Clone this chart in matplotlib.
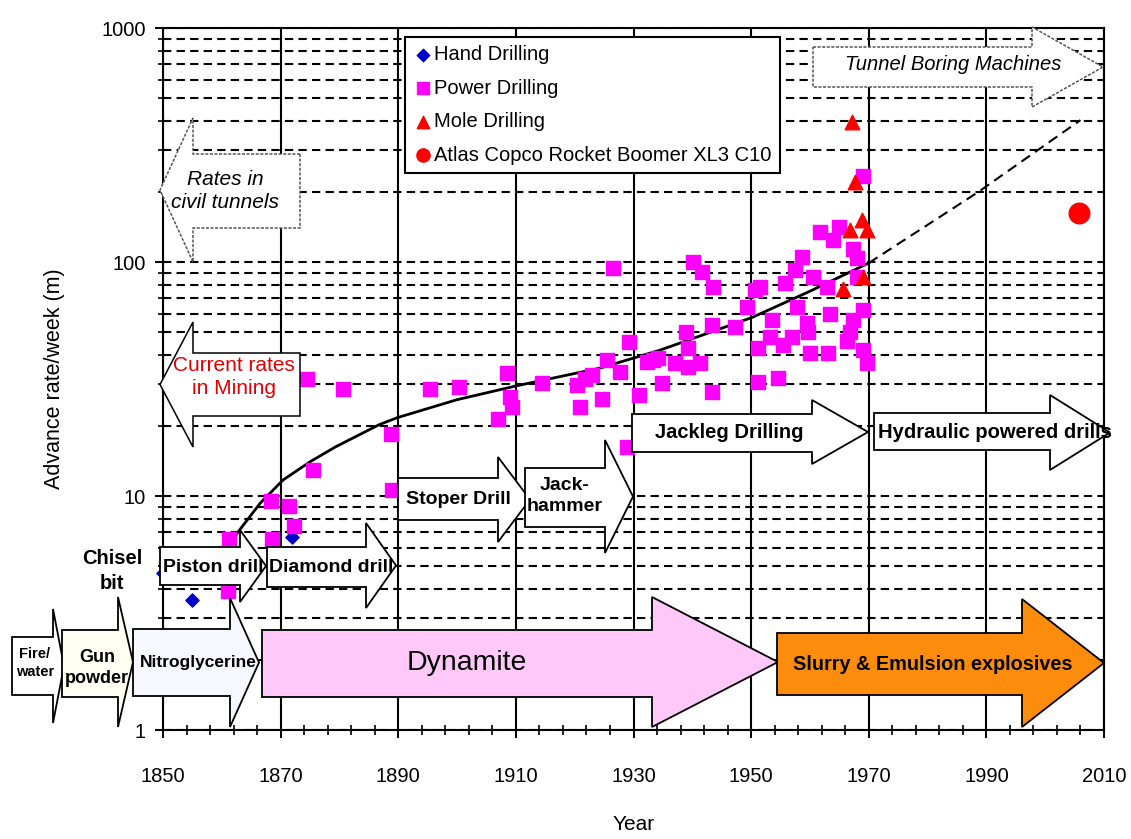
import matplotlib
matplotlib.use('Agg')
import matplotlib.pyplot as plt
from matplotlib.patches import Polygon
from matplotlib.transforms import Affine2D

plt.rcParams['font.family'] = ['Liberation Sans', 'DejaVu Sans']

W, H = 1131, 839

# ---- values ----
hand_year = [1850.0, 1854.9, 1871.9]
hand_rate = [4.7, 3.6, 6.7]

power_year = [1861.1, 1861.2, 1868.5, 1868.4, 1871.4, 1872.3, 1875.5, 1874.5, 1880.6, 1888.8,
              1888.9, 1895.4, 1900.3, 1907.0, 1908.5, 1909.0, 1909.3, 1914.5, 1920.4, 1920.9,
              1921.8, 1923.0, 1924.7, 1925.5, 1926.5, 1927.7, 1928.9, 1929.3, 1931.0, 1932.3,
              1933.3, 1934.2, 1934.9, 1937.0, 1939.3, 1939.0, 1939.3, 1940.1, 1941.3, 1941.7,
              1943.4, 1943.4, 1943.5, 1947.3, 1949.3, 1950.7, 1951.5, 1951.2, 1951.2, 1953.2,
              1953.6, 1954.6, 1955.4, 1955.8, 1957.0, 1957.5, 1957.8, 1958.7, 1959.5, 1959.7,
              1960.0, 1960.5, 1961.7, 1962.9, 1963.0, 1963.4, 1964.0, 1965.0, 1966.3, 1966.8,
              1967.3, 1967.3, 1968.0, 1968.0, 1969.0, 1969.0, 1969.7, 1969.0]
power_rate = [3.93, 6.55, 6.55, 9.5, 9.07, 7.45, 12.9, 31.6, 28.6, 18.4,
              10.6, 28.6, 29.2, 21.3, 33.4, 26.5, 24.0, 30.5, 29.8, 24.0,
              31.5, 32.9, 26.0, 38.0, 94.0, 33.8, 16.2, 45.5, 27.0, 37.3,
              38.0, 39.0, 30.5, 37.0, 35.6, 50.0, 43.0, 100.0, 37.0, 90.7,
              54.0, 27.8, 78.0, 52.7, 64.0, 76.0, 78.0, 43.0, 30.7, 48.0,
              56.5, 32.0, 44.0, 81.0, 48.0, 92.0, 64.0, 105.0, 55.0, 50.0,
              41.0, 86.0, 134.0, 78.0, 41.0, 60.0, 124.0, 141.0, 46.0, 50.0,
              56.5, 114.0, 104.0, 86.0, 62.6, 42.0, 37.0, 234.0]

mole_year = [1967.2, 1967.7, 1966.8, 1968.9, 1969.7, 1969.0, 1965.6]
mole_rate = [396, 220, 137, 151, 137, 86, 77]

atlas_year = [2005.8]
atlas_rate = [162]

trend_year = [1861.0, 1863.1, 1866.5, 1870.4, 1875.0, 1879.3, 1886.8, 1889.8, 1900.0,
              1910.2, 1924.3, 1934.5, 1950.2, 1960.0, 1970.0]
trend_rate = [6.1, 7.2, 9.3, 11.7, 14.0, 16.2, 20.2, 21.6, 25.8,
              29.6, 35.2, 42.0, 58.0, 75.0, 99.0]
future_year = [1970.0, 1988.6, 2006.0]
future_rate = [99.0, 199.0, 404.0]

year_ticks = list(range(1850, 2011, 20))

fig = plt.figure(figsize=(W / 100, H / 100), dpi=100)
ax = fig.add_axes([163 / W, 1 - 730 / H, 941 / W, 702 / H])
# pixel coordinates measured from the top-left corner, for the annotation arrows
pix = Affine2D().scale(1.0 / W, -1.0 / H).translate(0, 1) + fig.transFigure

ax.set_yscale('log')
ax.set_xlim(1850, 2010)
ax.set_ylim(1, 1000)
ax.set_xticks(year_ticks)
ax.set_xticks(range(1850, 2011, 4), minor=True)
ax.set_yticks([1, 10, 100, 1000])
ax.set_yticklabels(['1', '10', '100', '1000'])
ax.tick_params(axis='both', which='major', direction='inout', length=11, width=1.4, labelsize=14.5)
ax.tick_params(axis='both', which='minor', direction='inout', length=7, width=1.2)
ax.tick_params(axis='x', which='major', pad=21)
ax.tick_params(axis='y', which='major', pad=7)
ax.yaxis.set_minor_formatter(plt.NullFormatter())
for s in ax.spines.values():
    s.set_linewidth(1.5)

ax.set_axisbelow(True)
ax.yaxis.grid(True, which='both', color='black', lw=1.5, dashes=(4, 2.5))
ax.xaxis.grid(True, which='major', color='black', lw=1.5, ls='-')

ax.set_xlabel('Year', fontsize=15, labelpad=21)
ax.set_ylabel('Advance rate/week (m)', fontsize=15.5, labelpad=26)

# trend lines
ax.plot(trend_year, trend_rate, color='black', lw=2, zorder=2)
ax.plot(future_year, future_rate, color='black', lw=1.5, dashes=(5, 3), zorder=2)

# data
ax.scatter(hand_year, hand_rate, marker='D', s=45, color='#0000cc', zorder=2.5, clip_on=False,
           label='Hand Drilling')
ax.scatter(power_year, power_rate, marker='s', s=110, color='#ff00ff', zorder=2.5, label='Power Drilling')
ax.scatter(mole_year, mole_rate, marker='^', s=110, color='#ff0000', zorder=2.6, label='Mole Drilling')
ax.scatter(atlas_year, atlas_rate, marker='o', s=220, color='#ff0000', zorder=2.6,
           label='Atlas Copco Rocket Boomer XL3 C10')

leg = ax.legend(loc='upper left', bbox_to_anchor=(405 / W, 1 - 37 / H), bbox_transform=fig.transFigure,
                borderaxespad=0, fancybox=False, framealpha=1, edgecolor='black', fontsize=14.5,
                labelspacing=0.72, handletextpad=0.05, borderpad=0.4, handlelength=1.0, scatterpoints=1)
leg.get_frame().set_linewidth(1.5)
leg.set_zorder(5)
for h, sz in zip(leg.legend_handles, [40, 75, 80, 90]):
    h.set_sizes([sz])


def block_arrow(x0, x1, x2, yb0, yb1, yh0, yh1, fc='white', ec='black', lw=1.3, z=3, ls='-'):
    ym = (yh0 + yh1) / 2.0
    verts = [(x0, yb0), (x1, yb0), (x1, yh0), (x2, ym), (x1, yh1), (x1, yb1), (x0, yb1)]
    p = Polygon(verts, closed=True, transform=pix, facecolor=fc, edgecolor=ec, lw=lw,
                linestyle=ls, zorder=z, clip_on=False)
    ax.add_artist(p)


def label(x, y, s, size=12, z=3, spacing=1.3, **kw):
    ax.text(x, y, s, transform=pix, ha='center', va='center', fontsize=size, zorder=z,
            clip_on=False, linespacing=spacing, **kw)


# explosives timeline
block_arrow(12, 53, 64, 637, 695, 609, 723, fc='white', z=3.0)
label(35, 663, 'Fire/\nwater', size=10.5, weight='bold', z=3.05)
block_arrow(62, 118, 133, 630, 697, 597, 727, fc='#fffff4', z=3.1)
label(97, 668, 'Gun\npowder', size=13, weight='bold', z=3.15)
block_arrow(133, 230, 259, 629, 696, 598, 727, fc='#f6f7ff', z=3.2)
label(198, 662, 'Nitroglycerine', size=12.5, weight='bold', z=3.25)
block_arrow(262, 652, 778, 630, 697, 597, 727, fc='#ffc8f8', z=3.3)
label(467, 663, 'Dynamite', size=20.5, z=3.35)
block_arrow(777, 1022, 1104, 633, 695, 599, 727, fc='#fb8c0c', z=3.4)
label(933, 665, 'Slurry & Emulsion explosives', size=14.3, weight='bold', z=3.45)

# drilling timeline
block_arrow(160, 240, 266, 547, 585, 530, 602, z=3.5)
label(213, 567, 'Piston drill', size=14, weight='bold', z=3.55)
block_arrow(267, 366, 396, 547, 587, 523, 608, z=3.6)
label(331, 567, 'Diamond drill', size=14, weight='bold', z=3.65)
block_arrow(398, 498, 530, 478, 520, 457, 542, z=3.7)
label(458, 499, 'Stoper Drill', size=14, weight='bold', z=3.75)
block_arrow(525, 605, 633, 468, 527, 440, 553, z=3.8)
label(565, 496, 'Jack-\nhammer', size=14, weight='bold', z=3.85)
block_arrow(632, 812, 868, 414, 452, 400, 464, z=3.9)
label(729, 432, 'Jackleg Drilling', size=14.5, weight='bold', z=3.95)
block_arrow(874, 1050, 1110, 413, 450, 395, 470, z=4.0)
label(995, 433, 'Hydraulic powered drills', size=14.5, weight='bold', z=4.05)

# rate markers
block_arrow(813, 1032, 1103, 47, 87, 27, 107, ec='#555555', lw=1.1, ls=(0, (2, 1)), z=4.1)
label(953, 64, 'Tunnel Boring Machines', size=14.5, style='italic', z=4.15)
block_arrow(300, 193, 160, 154, 228, 118, 262, ec='#555555', lw=1.1, ls=(0, (2, 1)), z=4.1)
label(225, 191, 'Rates in\ncivil tunnels', size=15, style='italic', z=4.15)
block_arrow(300, 193, 160, 353, 416, 322, 447, ec='black', lw=1.1, z=4.1)
label(234, 377, 'Current rates\nin Mining', size=15, color='#e00000', z=4.15)

label(112, 571, 'Chisel\nbit', size=14.5, weight='bold', spacing=1.4, z=4.2)

fig.savefig('out.png', dpi=100)
